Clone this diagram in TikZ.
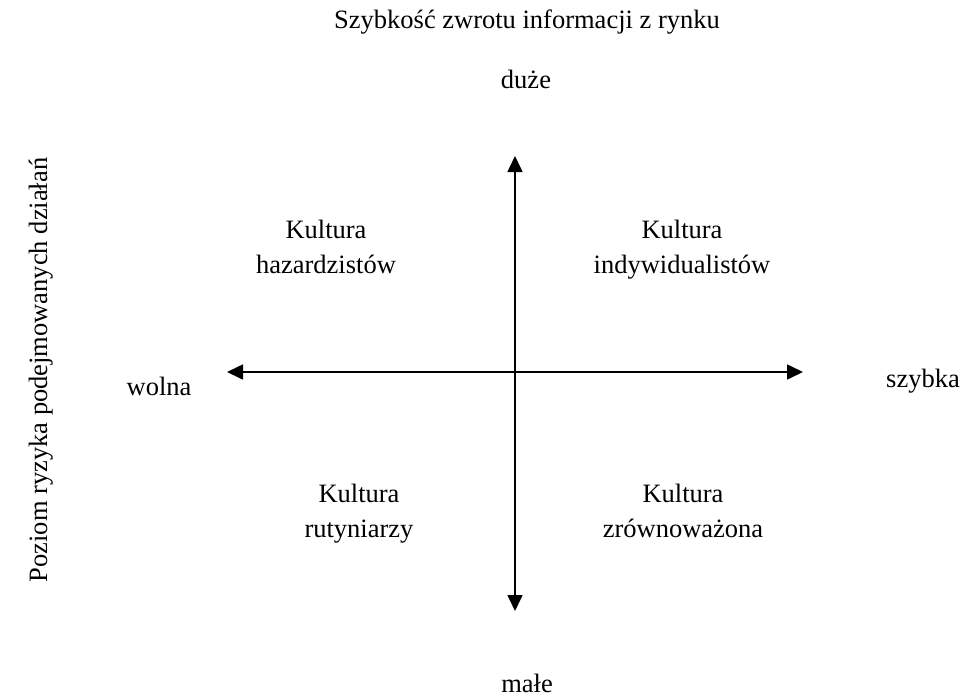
\documentclass[tikz,border=0pt]{standalone}
\usepackage{fontspec}
\setmainfont{Liberation Serif}
\usetikzlibrary{arrows.meta}
\begin{document}
\begin{tikzpicture}[x=1pt,y=-1pt,
  lbl/.style={font=\fontsize{26.5}{35}\selectfont, inner sep=0pt, anchor=base, align=center},
  axis/.style={line width=1.6pt, {Triangle[length=16pt,width=15pt]}-{Triangle[length=16pt,width=15pt]}}]
  \useasboundingbox (0,0) rectangle (964,697);

  % axis end points
  \coordinate (top) at (515,156);
  \coordinate (bottom) at (515,611);
  \coordinate (left) at (227,372);
  \coordinate (right) at (803,372);

  \draw[axis] (left) -- (right);
  \draw[axis] (top) -- (bottom);

  % axis captions
  \node[lbl] (title) at (527,28) {Szybkość zwrotu informacji z rynku};
  \node[lbl] (high) at (526,88) {duże};
  \node[lbl] (low) at (527,692) {małe};
  \node[lbl] (slow) at (159,395) {wolna};
  \node[lbl] (fast) at (923,387) {szybka};
  \node[lbl, rotate=90] (risk) at (47,370) {Poziom ryzyka podejmowanych działań};

  % quadrants (base anchor sits on the second line)
  \node[lbl] (q1) at (326,273) {Kultura\\hazardzistów};
  \node[lbl] (q2) at (682,273) {Kultura\\indywidualistów};
  \node[lbl] (q3) at (359,537) {Kultura\\rutyniarzy};
  \node[lbl] (q4) at (683,537) {Kultura\\zrównoważona};
\end{tikzpicture}
\end{document}
